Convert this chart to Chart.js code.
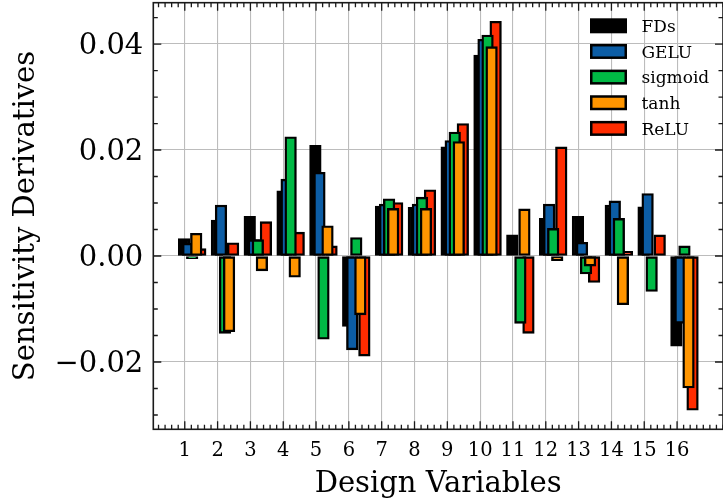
<!DOCTYPE html>
<html>
<head>
<meta charset="utf-8">
<script src="https://cdn.jsdelivr.net/npm/chart.js@4.4.1/dist/chart.umd.min.js"></script>
<style>
  html, body { margin: 0; padding: 0; background: #ffffff; }
  #wrap { width: 723px; height: 503px; }
</style>
</head>
<body>
<div id="wrap"><canvas id="chart" width="723" height="503"></canvas></div>
<script>
// Sensitivity derivatives per design variable: finite differences vs. networks with different activations
const designVariables = ['1', '2', '3', '4', '5', '6', '7', '8', '9', '10', '11', '12', '13', '14', '15', '16'];
const fds     = [0.0033, 0.0068, 0.0075, 0.0123, 0.0209, -0.0133, 0.0094, 0.0092, 0.0206, 0.0379, 0.0040, 0.0071, 0.0075, 0.0096, 0.0093, -0.0170];
const gelu    = [0.0024, 0.0096, 0.0031, 0.0145, 0.0158, -0.0177, 0.0098, 0.0098, 0.0218, 0.0409, 0.0000, 0.0098, 0.0026, 0.0104, 0.0118, -0.0127];
const sigmoid = [-0.0005, -0.0146, 0.0031, 0.0225, -0.0157, 0.0035, 0.0108, 0.0111, 0.0234, 0.0417, -0.0127, 0.0052, -0.0034, 0.0071, -0.0067, 0.0019];
const tanh    = [0.0043, -0.0143, -0.0028, -0.0040, 0.0057, -0.0111, 0.0090, 0.0090, 0.0216, 0.0395, 0.0089, -0.0009, -0.0019, -0.0092, 0.0000, -0.0249];
const relu    = [0.0014, 0.0025, 0.0065, 0.0045, 0.0019, -0.0189, 0.0101, 0.0125, 0.0250, 0.0443, -0.0146, 0.0206, -0.0050, 0.0009, 0.0040, -0.0291];
const yTickValues = [-0.02, 0, 0.02, 0.04];
const yTickLabels = ['\u22120.02', '0.00', '0.02', '0.04'];

const SERIF = '"DejaVu Serif", "Liberation Serif", serif';

// series: label, values, colour, shift from the integer position (axis units), draw order
const series = [
  { label: 'FDs',     values: fds,     color: '#000000', shift: -0.02,  order: 3 },
  { label: 'GELU',    values: gelu,    color: '#0C5DA5', shift: 0.103,  order: 2 },
  { label: 'sigmoid', values: sigmoid, color: '#00B945', shift: 0.226,  order: 1 },
  { label: 'tanh',    values: tanh,    color: '#FF9500', shift: 0.349,  order: 0 },
  { label: 'ReLU',    values: relu,    color: '#FF2C00', shift: 0.472,  order: 4 }
];

const datasets = series.map(s => ({
  label: s.label,
  data: s.values.map((v, i) => ({ x: i + 1 + s.shift, y: v })),
  backgroundColor: s.color,
  borderColor: '#000000',
  borderWidth: 2.4,
  borderSkipped: false,
  barThickness: 11.6,
  grouped: false,
  order: s.order
}));

// axis frame with inward major/minor ticks on all four sides
const frameAndTicks = {
  id: 'frameAndTicks',
  afterDraw(chart) {
    const { ctx, chartArea: a, scales: { x, y } } = chart;
    const majorLen = 8, minorLen = 4.5;
    ctx.save();
    ctx.strokeStyle = '#1a1a1a';
    ctx.lineWidth = 1.3;
    ctx.beginPath();
    for (let k = 1; k * 0.2 <= x.max + 1e-9; k++) {
      const v = k * 0.2;
      if (v < x.min) continue;
      const r = Math.round(v);
      const isMajor = Math.abs(v - r) < 1e-6 && r >= 1 && r <= designVariables.length;
      const len = isMajor ? majorLen : minorLen;
      const px = x.getPixelForValue(v);
      ctx.moveTo(px, a.bottom); ctx.lineTo(px, a.bottom - len);
      ctx.moveTo(px, a.top); ctx.lineTo(px, a.top + len);
    }
    for (let k = Math.ceil(y.min / 0.005); k * 0.005 <= y.max + 1e-12; k++) {
      const v = k * 0.005;
      const len = (k % 4 === 0) ? majorLen : minorLen;
      const py = y.getPixelForValue(v);
      ctx.moveTo(a.left, py); ctx.lineTo(a.left + len, py);
      ctx.moveTo(a.right, py); ctx.lineTo(a.right - len, py);
    }
    ctx.stroke();
    ctx.lineWidth = 1.6;
    ctx.strokeRect(a.left, a.top, a.right - a.left, a.bottom - a.top);
    ctx.restore();
  }
};

// legend placed inside the plotting area, upper right, above the grid
const insideLegend = {
  id: 'insideLegend',
  afterDraw(chart) {
    const { ctx } = chart;
    const boxX = 590, boxW = 37, boxH = 15, textX = 641.5, firstY = 25.8, rowGap = 25.65;
    ctx.save();
    ctx.font = '17px ' + SERIF;
    ctx.textBaseline = 'alphabetic';
    ctx.textAlign = 'left';
    chart.data.datasets.forEach((ds, i) => {
      const cy = firstY + i * rowGap;
      ctx.fillStyle = '#000000';
      ctx.fillRect(boxX, cy - boxH / 2, boxW, boxH);
      ctx.fillStyle = ds.backgroundColor;
      ctx.fillRect(boxX + 2.5, cy - boxH / 2 + 2.5, boxW - 5, boxH - 5);
      ctx.fillStyle = '#000000';
      ctx.fillText(ds.label, textX, cy + 6.2);
    });
    ctx.restore();
  }
};

new Chart(document.getElementById('chart'), {
  type: 'bar',
  data: { datasets },
  options: {
    responsive: false,
    animation: false,
    devicePixelRatio: 1,
    layout: { padding: { left: 0, top: 2.7, right: -4, bottom: 0 } },
    plugins: { legend: { display: false }, tooltip: { enabled: false } },
    scales: {
      x: {
        type: 'linear',
        offset: false,
        z: 1,
        min: 0.041,
        max: 17.40,
        afterBuildTicks: s => { s.ticks = designVariables.map((_, i) => ({ value: i + 1 })); },
        afterFit: s => { s.height = 73.7; s.paddingLeft = 0; s.paddingRight = 0; },
        ticks: {
          callback: (v, i) => designVariables[i],
          autoSkip: false,
          maxRotation: 0,
          padding: 10,
          color: '#000000',
          font: { family: SERIF, size: 19.5 }
        },
        grid: { color: '#bcbcbc', lineWidth: 1.1, drawTicks: false, offset: false },
        border: { display: false },
        title: {
          display: true,
          text: 'Design Variables',
          color: '#000000',
          font: { family: SERIF, size: 29 },
          padding: { top: 0, bottom: 1.5 }
        }
      },
      y: {
        type: 'linear',
        z: 1,
        min: -0.0327,
        max: 0.0478,
        afterBuildTicks: s => { s.ticks = yTickValues.map(v => ({ value: v })); },
        afterFit: s => { s.width = 153.3; s.paddingTop = 0; s.paddingBottom = 0; },
        ticks: {
          callback: (v, i) => yTickLabels[i],
          padding: 10,
          labelOffset: 2.5,
          color: '#000000',
          font: { family: SERIF, size: 29 }
        },
        grid: { color: '#bcbcbc', lineWidth: 1.1, drawTicks: false },
        border: { display: false },
        title: {
          display: true,
          text: 'Sensitivity Derivatives',
          color: '#000000',
          font: { family: SERIF, size: 29 },
          padding: { top: 9, bottom: 0 }
        }
      }
    }
  },
  plugins: [frameAndTicks, insideLegend]
});
</script>
</body>
</html>
